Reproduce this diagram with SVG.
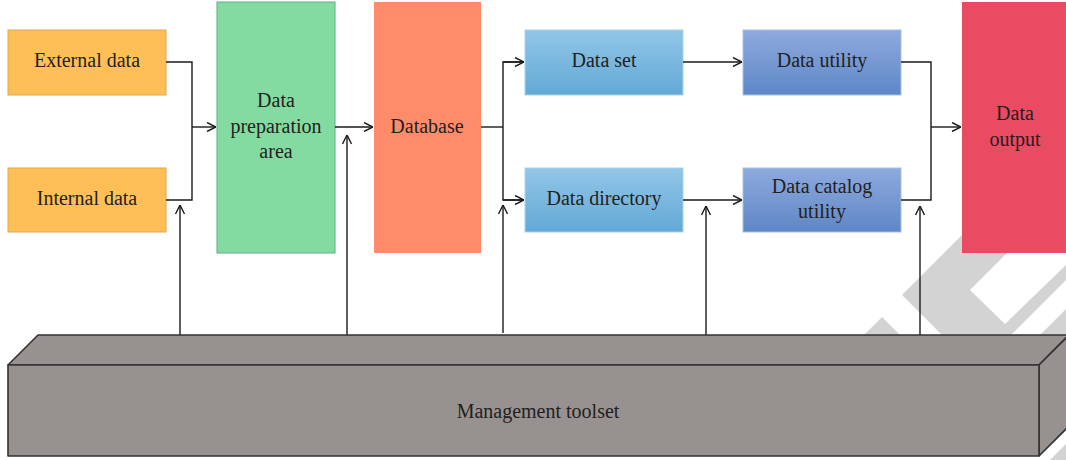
<svg xmlns="http://www.w3.org/2000/svg" width="1066" height="460" viewBox="0 0 1066 460">
<defs>
<style>
.t{font-family:'Liberation Serif','DejaVu Serif','Times New Roman',serif;font-size:20px;fill:#231f20;text-anchor:middle}
.c{fill:none;stroke:#1a1a1a;stroke-width:1.4}
.wm{fill:#d3d3d3}
.box{fill:#979290;stroke:#333;stroke-width:1.6;stroke-linejoin:round}
</style>
<linearGradient id="gLight" x1="0" y1="0" x2="0" y2="1">
<stop offset="0" stop-color="#92c6e7"/><stop offset="1" stop-color="#62a9d6"/>
</linearGradient>
<linearGradient id="gDark" x1="0" y1="0" x2="0" y2="1">
<stop offset="0" stop-color="#8eaade"/><stop offset="1" stop-color="#5e87c6"/>
</linearGradient>
<marker id="ah" viewBox="0 0 10 10" refX="10" refY="5" markerWidth="10" markerHeight="10" markerUnits="userSpaceOnUse" orient="auto">
<path d="M1,0.5 L10,5 L1,9.5" fill="none" stroke="#1a1a1a" stroke-width="1.4"/>
</marker>
</defs>
<rect width="1066" height="460" fill="#fff"/>
<g id="watermark">
<polygon class="wm" points="902,295 962,235 1066,235 1066,280 1011,335 942,335"/>
<polygon fill="#fff" points="970,290 1007,253 1066,253 1066,265 1005,324"/>
<polygon class="wm" points="864,335 882,317 900,335"/>
<polygon class="wm" points="1040,335 1066,309 1066,335"/>
<polygon class="wm" points="1050,460 1066,444 1066,460"/>
</g>
<g id="external-data">
<rect x="8" y="30" width="158" height="65" fill="#ffbf57" stroke="#e6a548" stroke-width="1"/>
<text class="t" font-family="Liberation Serif, serif" x="87" y="67">External data</text>
</g>
<g id="internal-data">
<rect x="8" y="168" width="158" height="64" fill="#ffbf57" stroke="#e6a548" stroke-width="1"/>
<text class="t" font-family="Liberation Serif, serif" x="87" y="205">Internal data</text>
</g>
<g id="data-preparation-area">
<rect x="217" y="2" width="118" height="251" fill="#84dba1" stroke="#5cae7e" stroke-width="1"/>
<text class="t" font-family="Liberation Serif, serif" x="276" y="107">Data</text>
<text class="t" font-family="Liberation Serif, serif" x="276" y="133">preparation</text>
<text class="t" font-family="Liberation Serif, serif" x="276" y="158">area</text>
</g>
<g id="database">
<rect x="374" y="2" width="107" height="251" fill="#ff8b6a"/>
<text class="t" font-family="Liberation Serif, serif" x="427" y="133">Database</text>
</g>
<g id="data-set">
<rect x="525" y="30" width="158" height="65" fill="url(#gLight)" stroke="#a9d3ee" stroke-width="1"/>
<text class="t" font-family="Liberation Serif, serif" x="604" y="67">Data set</text>
</g>
<g id="data-directory">
<rect x="525" y="168" width="158" height="64" fill="url(#gLight)" stroke="#a9d3ee" stroke-width="1"/>
<text class="t" font-family="Liberation Serif, serif" x="604" y="205">Data directory</text>
</g>
<g id="data-utility">
<rect x="743" y="30" width="158" height="65" fill="url(#gDark)" stroke="#a7bfe6" stroke-width="1"/>
<text class="t" font-family="Liberation Serif, serif" x="822" y="67">Data utility</text>
</g>
<g id="data-catalog-utility">
<rect x="743" y="168" width="158" height="64" fill="url(#gDark)" stroke="#a7bfe6" stroke-width="1"/>
<text class="t" font-family="Liberation Serif, serif" x="822" y="193">Data catalog</text>
<text class="t" font-family="Liberation Serif, serif" x="822" y="218">utility</text>
</g>
<g id="data-output">
<rect x="962" y="2" width="104" height="251" fill="#e94b63"/>
<text class="t" font-family="Liberation Serif, serif" x="1015" y="120">Data</text>
<text class="t" font-family="Liberation Serif, serif" x="1015" y="146">output</text>
</g>
<g id="connectors">
<polyline class="c" points="166,62 192,62 192,200 166,200"/>
<line class="c" x1="192" y1="127" x2="216" y2="127" marker-end="url(#ah)"/>
<line class="c" x1="335" y1="127" x2="373" y2="127" marker-end="url(#ah)"/>
<polyline class="c" points="481,127 503,127"/>
<polyline class="c" points="524,62 503,62 503,200 524,200"/>
<line class="c" x1="503" y1="62" x2="524" y2="62" marker-end="url(#ah)"/>
<line class="c" x1="503" y1="200" x2="524" y2="200" marker-end="url(#ah)"/>
<line class="c" x1="683" y1="62" x2="742" y2="62" marker-end="url(#ah)"/>
<line class="c" x1="683" y1="200" x2="742" y2="200" marker-end="url(#ah)"/>
<polyline class="c" points="901,62 931,62 931,200 901,200"/>
<line class="c" x1="931" y1="127" x2="961" y2="127" marker-end="url(#ah)"/>
<line class="c" x1="180" y1="335" x2="180" y2="205" marker-end="url(#ah)"/>
<line class="c" x1="347" y1="335" x2="347" y2="135" marker-end="url(#ah)"/>
<line class="c" x1="503" y1="333" x2="503" y2="205" marker-end="url(#ah)"/>
<line class="c" x1="706" y1="335" x2="706" y2="206" marker-end="url(#ah)"/>
<line class="c" x1="920" y1="335" x2="920" y2="206" marker-end="url(#ah)"/>
</g>
<g id="management-toolset">
<polygon class="box" points="8,365 38,335 1069,335 1039,365"/>
<polygon class="box" points="1039,365 1069,335 1069,426 1039,456"/>
<rect class="box" x="8" y="365" width="1031" height="91"/>
<text class="t" font-family="Liberation Serif, serif" x="538" y="418">Management toolset</text>
</g>
</svg>
